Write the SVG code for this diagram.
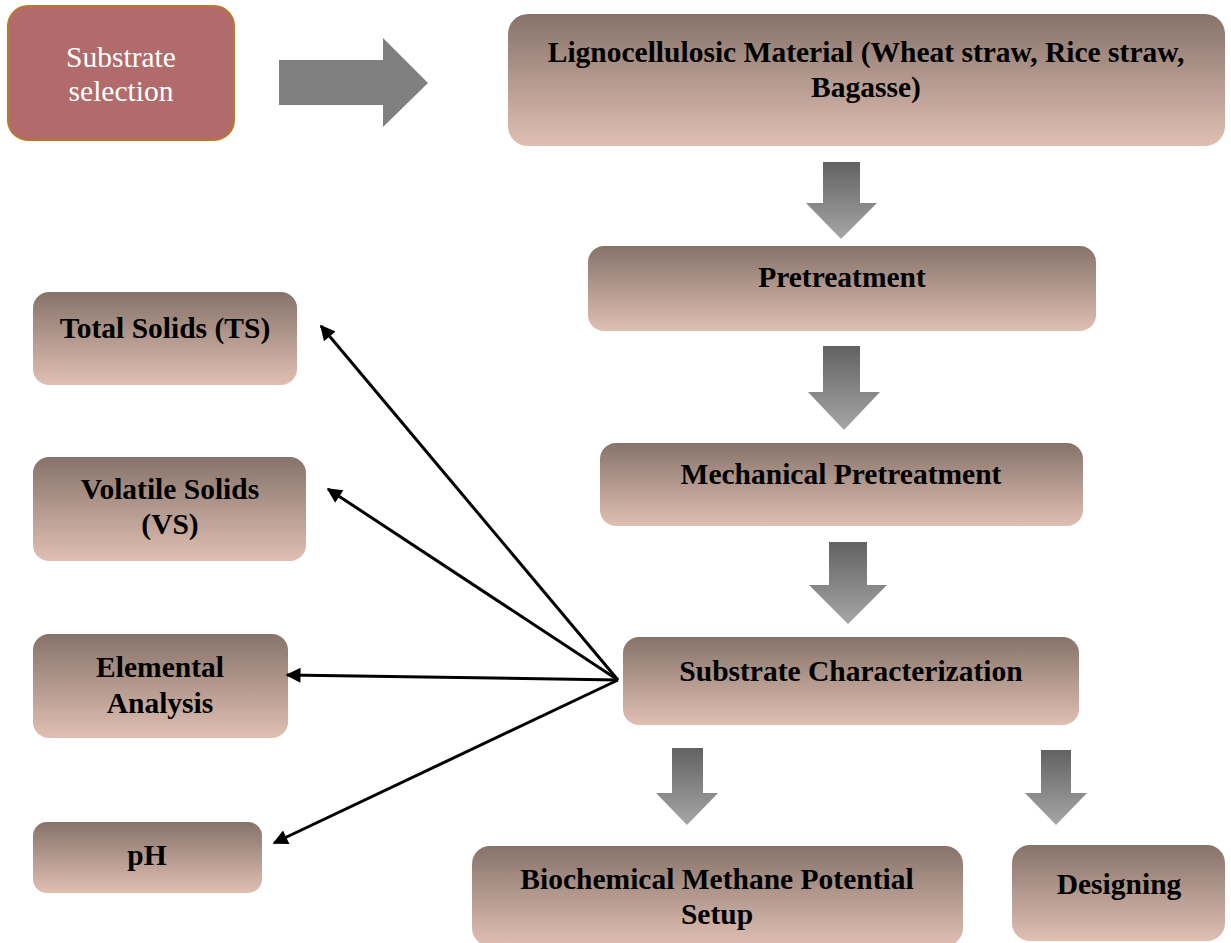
<svg xmlns="http://www.w3.org/2000/svg" width="1231" height="943" viewBox="0 0 1231 943">
<defs>
<linearGradient id="boxg" x1="0" y1="0" x2="0" y2="1">
<stop offset="0" stop-color="#86736a"/>
<stop offset="1" stop-color="#e1bfb3"/>
</linearGradient>
<linearGradient id="arrg" x1="0" y1="0" x2="0" y2="1">
<stop offset="0" stop-color="#626262"/>
<stop offset="1" stop-color="#a6a6a6"/>
</linearGradient>
<marker id="ah" viewBox="0 0 10 10" refX="9" refY="5" markerWidth="5.5" markerHeight="5" markerUnits="strokeWidth" orient="auto">
<path d="M0,0 L10,5 L0,10 z" fill="#000"/>
</marker>
<style>
.box{fill:url(#boxg);}
.t{font-family:"Liberation Serif","Times New Roman",serif;font-weight:bold;font-size:29.5px;fill:#000;text-anchor:middle;}
.w{font-family:"Liberation Serif","Times New Roman",serif;font-size:29.5px;fill:#fff;text-anchor:middle;}
.da{fill:url(#arrg);}
.ln{stroke:#000;stroke-width:3;fill:none;marker-end:url(#ah);}
</style>
</defs>
<rect width="1231" height="943" fill="#fff"/>

<g id="substrate-selection">
<rect x="8" y="6" width="226" height="134" rx="20" fill="#b16b6b" stroke="#b8792c" stroke-width="2"/>
<text class="w" x="121" y="67">Substrate</text>
<text class="w" x="121" y="101">selection</text>
</g>

<g id="big-arrow">
<path d="M279,60 L383,60 L383,38 L428,83 L383,127 L383,105 L279,105 z" fill="#808080"/>
</g>

<g id="lignocellulosic">
<rect class="box" x="508" y="14" width="717" height="132" rx="20"/>
<text class="t" x="866" y="62">Lignocellulosic Material (Wheat straw, Rice straw,</text>
<text class="t" x="866" y="97">Bagasse)</text>
</g>

<g id="pretreatment">
<rect class="box" x="588" y="246" width="508" height="85" rx="16"/>
<text class="t" x="842" y="287">Pretreatment</text>
</g>

<g id="mechanical">
<rect class="box" x="600" y="443" width="483" height="83" rx="16"/>
<text class="t" x="841" y="484">Mechanical Pretreatment</text>
</g>

<g id="characterization">
<rect class="box" x="623" y="637" width="456" height="88" rx="16"/>
<text class="t" x="851" y="681">Substrate Characterization</text>
</g>

<g id="bmp">
<rect class="box" x="472" y="846" width="491" height="100" rx="18"/>
<text class="t" x="717" y="889">Biochemical Methane Potential</text>
<text class="t" x="717" y="924">Setup</text>
</g>

<g id="designing">
<rect class="box" x="1012" y="845" width="213" height="96" rx="18"/>
<text class="t" x="1119" y="894">Designing</text>
</g>

<g id="total-solids">
<rect class="box" x="33" y="292" width="264" height="93" rx="16"/>
<text class="t" x="165" y="338">Total Solids (TS)</text>
</g>

<g id="volatile-solids">
<rect class="box" x="33" y="457" width="273" height="104" rx="16"/>
<text class="t" x="170" y="499">Volatile Solids</text>
<text class="t" x="170" y="534">(VS)</text>
</g>

<g id="elemental">
<rect class="box" x="33" y="634" width="255" height="104" rx="16"/>
<text class="t" x="160" y="677">Elemental</text>
<text class="t" x="160" y="713">Analysis</text>
</g>

<g id="ph">
<rect class="box" x="33" y="822" width="229" height="71" rx="14"/>
<text class="t" x="147" y="865">pH</text>
</g>

<g id="connectors">
<path class="da" d="M823,162 L860,162 L860,203 L877,203 L841,239 L806,203 L823,203 z"/>
<path class="da" d="M823,346 L860,346 L860,392 L880,392 L844,430 L808,392 L823,392 z"/>
<path class="da" d="M829,542 L867,542 L867,585 L887,585 L848,624 L809,585 L829,585 z"/>
<path class="da" d="M672,748 L703,748 L703,793 L718,793 L687,825 L656,793 L672,793 z"/>
<path class="da" d="M1041,750 L1071,750 L1071,793 L1087,793 L1056,825 L1025,793 L1041,793 z"/>
<line class="ln" x1="618" y1="680" x2="321" y2="326"/>
<line class="ln" x1="618" y1="680" x2="328" y2="489"/>
<line class="ln" x1="618" y1="680" x2="287" y2="675"/>
<line class="ln" x1="618" y1="680" x2="274" y2="843"/>
</g>
</svg>
